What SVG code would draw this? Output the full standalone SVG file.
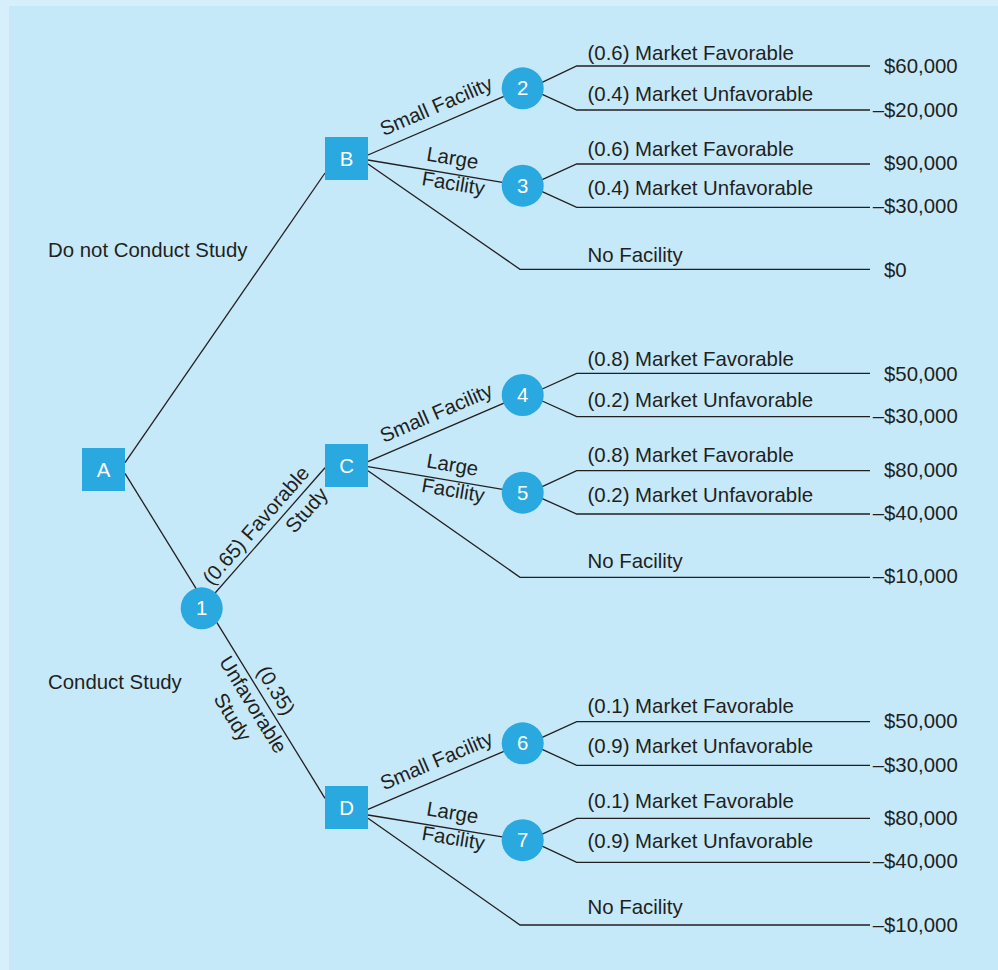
<svg xmlns="http://www.w3.org/2000/svg" width="998" height="970" viewBox="0 0 998 970">
<defs>
<style>
.t { font-family: "Liberation Sans", Arial, Helvetica, sans-serif; font-size: 20.4px; fill: #231f20; }
.m { text-anchor: middle; }
.nt { font-family: "Liberation Sans", Arial, Helvetica, sans-serif; font-size: 20.4px; fill: #ffffff; text-anchor: middle; }
.sq { fill: #2aa8e0; }
.ci { fill: #2aa8e0; }
.e { stroke: #231f20; stroke-width: 1.3; fill: none; }
</style>
</defs>
<rect x="0" y="0" width="998" height="970" fill="#d6effb"/>
<rect x="9" y="6" width="989" height="964" fill="#c6e9f9"/>

<g id="connectors">
  <path class="e" d="M125,462.7 L325,173"/>
  <path class="e" d="M125,473.3 L198.6,592.6"/>
  <path class="e" d="M201.7,608.3 L325,467.7"/>
  <path class="e" d="M215.7,620.7 L325,798.3"/>
  <!-- B -->
  <path class="e" d="M368,155 L522.7,88.3"/>
  <path class="e" d="M368,160 L522.7,185.7"/>
  <path class="e" d="M368,164 L520,269.3 H870"/>
  <path class="e" d="M540,83.3 L576.7,66 H870"/>
  <path class="e" d="M540,93.3 L576.7,110 H870"/>
  <path class="e" d="M540,180.7 L576.7,164 H870"/>
  <path class="e" d="M540,190.7 L576.7,207.3 H870"/>
  <!-- C -->
  <path class="e" d="M368,461.7 L522.7,395"/>
  <path class="e" d="M368,466.7 L522.7,492.7"/>
  <path class="e" d="M368,470.7 L520,577.3 H870"/>
  <path class="e" d="M540,390 L576.7,373.3 H870"/>
  <path class="e" d="M540,400 L576.7,416.7 H870"/>
  <path class="e" d="M540,487.7 L576.7,470.7 H870"/>
  <path class="e" d="M540,497.7 L576.7,514 H870"/>
  <!-- D -->
  <path class="e" d="M368,809.3 L522.7,743.3"/>
  <path class="e" d="M368,815 L522.7,840.2"/>
  <path class="e" d="M368,818.3 L520,925 H870"/>
  <path class="e" d="M540,738.3 L576.7,721.7 H870"/>
  <path class="e" d="M540,748.3 L576.7,765.3 H870"/>
  <path class="e" d="M540,835.2 L576.7,818.3 H870"/>
  <path class="e" d="M540,845.2 L576.7,862.3 H870"/>
</g>

<g id="branch-labels">
  <g transform="translate(201.7,608.3) rotate(-48.75)">
    <text class="t m" x="98" y="-7">(0.65) Favorable</text>
    <text class="t m" x="143" y="21">Study</text>
  </g>
  <g transform="translate(217.3,623.3) rotate(58.4)">
    <text class="t m" x="88" y="-8">(0.35)</text>
    <text class="t m" x="88" y="19">Unfavorable</text>
    <text class="t m" x="88" y="43">Study</text>
  </g>
  <g transform="translate(368,155) rotate(-23.3)"><text class="t m" x="82" y="-11">Small Facility</text></g>
  <g transform="translate(368,160) rotate(9.43)"><text class="t m" x="83" y="-9">Large</text><text class="t m" x="88" y="16">Facility</text></g>
  <g transform="translate(368,461.7) rotate(-23.3)"><text class="t m" x="82" y="-11">Small Facility</text></g>
  <g transform="translate(368,466.7) rotate(9.54)"><text class="t m" x="83" y="-9">Large</text><text class="t m" x="88" y="16">Facility</text></g>
  <g transform="translate(368,809.3) rotate(-23.1)"><text class="t m" x="82" y="-11">Small Facility</text></g>
  <g transform="translate(368,815) rotate(9.25)"><text class="t m" x="83" y="-9">Large</text><text class="t m" x="88" y="16">Facility</text></g>
  <text class="t" x="48" y="257.3">Do not Conduct Study</text>
  <text class="t" x="48" y="689">Conduct Study</text>
</g>

<g id="outcome-labels">
  <text class="t" x="587.5" y="60">(0.6) Market Favorable</text>
  <text class="t" x="587.5" y="100.7">(0.4) Market Unfavorable</text>
  <text class="t" x="587.5" y="155.5">(0.6) Market Favorable</text>
  <text class="t" x="587.5" y="195">(0.4) Market Unfavorable</text>
  <text class="t" x="587.5" y="261.7">No Facility</text>
  <text class="t" x="587.5" y="366">(0.8) Market Favorable</text>
  <text class="t" x="587.5" y="407.3">(0.2) Market Unfavorable</text>
  <text class="t" x="587.5" y="461.7">(0.8) Market Favorable</text>
  <text class="t" x="587.5" y="501.7">(0.2) Market Unfavorable</text>
  <text class="t" x="587.5" y="568.3">No Facility</text>
  <text class="t" x="587.5" y="712.7">(0.1) Market Favorable</text>
  <text class="t" x="587.5" y="753.3">(0.9) Market Unfavorable</text>
  <text class="t" x="587.5" y="808.3">(0.1) Market Favorable</text>
  <text class="t" x="587.5" y="848.3">(0.9) Market Unfavorable</text>
  <text class="t" x="587.5" y="914">No Facility</text>
</g>

<g id="payoffs">
  <text class="t" x="884" y="73.3">$60,000</text>
  <text class="t" x="872.7" y="116.7">–$20,000</text>
  <text class="t" x="884" y="170">$90,000</text>
  <text class="t" x="872.7" y="213.3">–$30,000</text>
  <text class="t" x="884" y="276.7">$0</text>
  <text class="t" x="884" y="380.7">$50,000</text>
  <text class="t" x="872.7" y="423.3">–$30,000</text>
  <text class="t" x="884" y="476.7">$80,000</text>
  <text class="t" x="872.7" y="520">–$40,000</text>
  <text class="t" x="872.7" y="583.3">–$10,000</text>
  <text class="t" x="884" y="728.3">$50,000</text>
  <text class="t" x="872.7" y="771.7">–$30,000</text>
  <text class="t" x="884" y="825">$80,000</text>
  <text class="t" x="872.7" y="868.3">–$40,000</text>
  <text class="t" x="872.7" y="931.7">–$10,000</text>
</g>

<g id="node-A"><rect class="sq" x="82" y="448" width="43" height="43"/><text class="nt" x="103.5" y="476.5">A</text></g>
<g id="node-B"><rect class="sq" x="325" y="137" width="43" height="43"/><text class="nt" x="346.5" y="165.5">B</text></g>
<g id="node-C"><rect class="sq" x="325" y="444" width="43" height="43"/><text class="nt" x="346.5" y="472.5">C</text></g>
<g id="node-D"><rect class="sq" x="325" y="786" width="43" height="43"/><text class="nt" x="346.5" y="814.5">D</text></g>
<g id="node-1"><circle class="ci" cx="201.7" cy="608.3" r="21"/><text class="nt" x="201.7" y="615.3">1</text></g>
<g id="node-2"><circle class="ci" cx="522.7" cy="88.3" r="21"/><text class="nt" x="522.7" y="95.3">2</text></g>
<g id="node-3"><circle class="ci" cx="522.7" cy="185.7" r="21"/><text class="nt" x="522.7" y="192.7">3</text></g>
<g id="node-4"><circle class="ci" cx="522.7" cy="395" r="21"/><text class="nt" x="522.7" y="402">4</text></g>
<g id="node-5"><circle class="ci" cx="522.7" cy="492.7" r="21"/><text class="nt" x="522.7" y="499.7">5</text></g>
<g id="node-6"><circle class="ci" cx="522.7" cy="743.3" r="21"/><text class="nt" x="522.7" y="750.3">6</text></g>
<g id="node-7"><circle class="ci" cx="522.7" cy="840.2" r="21"/><text class="nt" x="522.7" y="847.2">7</text></g>
</svg>
